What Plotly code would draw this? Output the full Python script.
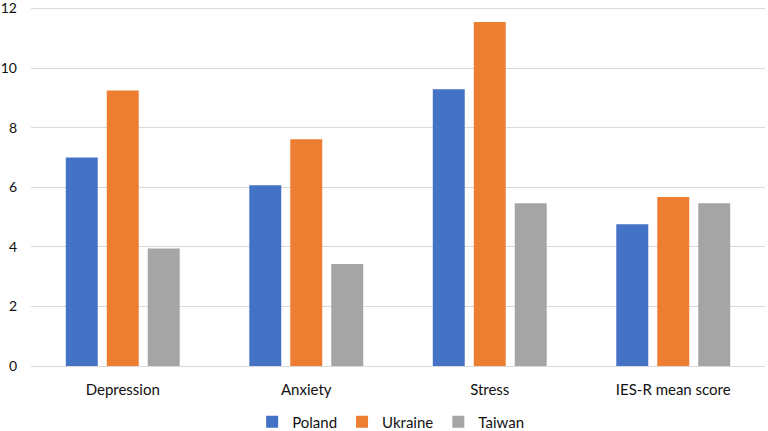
import plotly.graph_objects as go

categories = ["Depression", "Anxiety", "Stress", "IES-R mean score"]
poland = [7.0, 6.07, 9.29, 4.76]
ukraine = [9.25, 7.61, 11.55, 5.67]
taiwan = [3.94, 3.42, 5.46, 5.46]
y_ticks = [0, 2, 4, 6, 8, 10, 12]

series = [("Poland", poland, "#4472C4"), ("Ukraine", ukraine, "#ED7D31"), ("Taiwan", taiwan, "#A5A5A5")]

fig = go.Figure()
for name, vals, color in series:
    fig.add_trace(go.Bar(name=name, x=categories, y=vals, marker=dict(color=color, line=dict(width=0))))

font = "Lato, Calibri, Carlito, sans-serif"
fig.update_layout(
    width=768, height=431,
    margin=dict(l=31, r=3, t=6.5, b=64.5, autoexpand=False),
    paper_bgcolor="white", plot_bgcolor="white",
    barmode="group", bargap=0.33, bargroupgap=0.22,
    font=dict(family=font, size=15, color="#111111"),
    showlegend=True,
    legend=dict(orientation="h", x=0.49, xanchor="center", y=-0.156, yanchor="middle",
                font=dict(size=15, color="#111111"), itemwidth=30, traceorder="normal"),
    xaxis=dict(showgrid=False, showline=False, ticks="", tickfont=dict(size=15), ticklabelstandoff=13),
    yaxis=dict(range=[0, 12.05], tickmode="array", tickvals=y_ticks,
               showgrid=True, gridcolor="#D9D9D9", gridwidth=1,
               zeroline=True, zerolinecolor="#D9D9D9", zerolinewidth=1, showline=False,
               ticks="", tickfont=dict(size=14), ticklabelstandoff=13, ticklabeloverflow="allow"),
)

fig.write_html("out.html", config={"displayModeBar": False},
               post_script="document.body.style.margin='0px';document.body.style.padding='0px';")
